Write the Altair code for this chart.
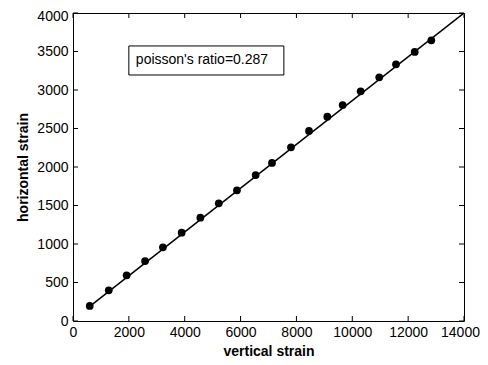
import altair as alt
import pandas as pd

# measured data points (vertical strain, horizontal strain)
vertical = [600, 1280, 1920, 2580, 3220, 3890, 4560, 5220, 5870, 6540,
            7125, 7805, 8450, 9105, 9655, 10300, 10965, 11565, 12235, 12830]
horizontal = [195, 398, 593, 779, 957, 1147, 1342, 1528, 1697, 1896,
              2052, 2255, 2468, 2653, 2805, 2983, 3165, 3334, 3494, 3645]

# fitted line end points
fit_x = [600, 14000]
fit_y = [190, 4000]

x_ticks = [0, 2000, 4000, 6000, 8000, 10000, 12000, 14000]
y_ticks = [0, 500, 1000, 1500, 2000, 2500, 3000, 3500, 4000]

note_text = "poisson's ratio=0.287"
note_box_x = [2000, 7550]
note_box_y = [3195, 3572]
note_pos = [2250, 3385]

W, H = 391, 308
FONT = "Liberation Sans"
X_MAX, Y_MAX = 14000, 4000
TICK_PX = 5
tx = TICK_PX / W * X_MAX   # inward tick length in x data units
ty = TICK_PX / H * Y_MAX   # inward tick length in y data units

pts = pd.DataFrame({"v": vertical, "h": horizontal})
fit = pd.DataFrame({"v": fit_x, "h": fit_y})
xt = pd.DataFrame({"t": x_ticks + x_ticks,
                   "a": [0] * len(x_ticks) + [Y_MAX] * len(x_ticks),
                   "b": [ty] * len(x_ticks) + [Y_MAX - ty] * len(x_ticks)})
yt = pd.DataFrame({"t": y_ticks + y_ticks,
                   "a": [0] * len(y_ticks) + [X_MAX] * len(y_ticks),
                   "b": [tx] * len(y_ticks) + [X_MAX - tx] * len(y_ticks)})
box = pd.DataFrame({"x1": [note_box_x[0]], "x2": [note_box_x[1]],
                    "y1": [note_box_y[0]], "y2": [note_box_y[1]]})
note = pd.DataFrame({"x": [note_pos[0]], "y": [note_pos[1]], "label": [note_text]})

xscale = alt.Scale(domain=[0, X_MAX], nice=False)
yscale = alt.Scale(domain=[0, Y_MAX], nice=False)

xaxis = alt.Axis(values=x_ticks, format="d", ticks=False, domain=False, grid=False,
                 labelFont=FONT, labelFontSize=14, labelColor="black", labelPadding=4,
                 labelOffset={"condition": {"test": "datum.value >= 14000", "value": -4},
                              "value": 0},
                 title="vertical strain", titleFont=FONT, titleFontSize=14,
                 titleFontWeight="bold", titleColor="black", titlePadding=5,
                 labelFlush=False, labelOverlap=False)
yaxis = alt.Axis(values=y_ticks, format="d", ticks=False, domain=False, grid=False,
                 labelFont=FONT, labelFontSize=14, labelColor="black", labelPadding=5,
                 labelOffset={"condition": {"test": "datum.value >= 4000", "value": 3},
                              "value": 0},
                 title="horizontal strain", titleFont=FONT, titleFontSize=14,
                 titleFontWeight="bold", titleColor="black", titlePadding=6,
                 labelFlush=False, labelOverlap=False)


def X(field):
    return alt.X(field, scale=xscale, axis=xaxis, title="vertical strain")


def Y(field):
    return alt.Y(field, scale=yscale, axis=yaxis, title="horizontal strain")


line = alt.Chart(fit).mark_line(color="black", strokeWidth=1.5, clip=True).encode(
    x=X("v:Q"), y=Y("h:Q"))

points = alt.Chart(pts).mark_point(filled=True, color="black", size=60, opacity=1,
                                   shape="circle").encode(x=X("v:Q"), y=Y("h:Q"))

xticks_layer = alt.Chart(xt).mark_rule(color="black", strokeWidth=1).encode(
    x=X("t:Q"), y=Y("a:Q"), y2="b:Q")
yticks_layer = alt.Chart(yt).mark_rule(color="black", strokeWidth=1).encode(
    y=Y("t:Q"), x=X("a:Q"), x2="b:Q")

rect = alt.Chart(box).mark_rect(fill="white", stroke="black", strokeWidth=1).encode(
    x=X("x1:Q"), x2="x2:Q", y=Y("y1:Q"), y2="y2:Q")

txt = alt.Chart(note).mark_text(align="left", baseline="middle", font=FONT,
                                fontSize=14, color="black").encode(
    x=X("x:Q"), y=Y("y:Q"), text="label:N")

chart = alt.layer(line, points, xticks_layer, yticks_layer, rect, txt).properties(
    width=W, height=H,
    autosize=alt.AutoSizeParams(type="none"),
    padding={"left": 65, "top": 5, "right": 16, "bottom": 36},
    background="white",
).configure_view(stroke="black", strokeWidth=1)

chart.save("out.html", embed_options={"renderer": "svg", "actions": False})
